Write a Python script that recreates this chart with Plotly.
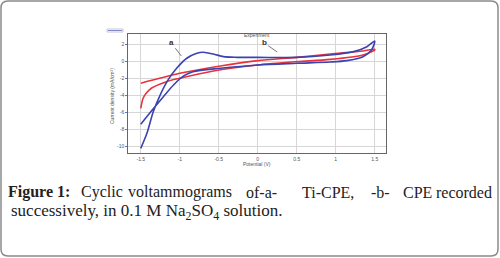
import plotly.graph_objects as go

# ---- data ----
# curve a: Ti-CPE (blue), one cycle: forward sweep then return
a_potential = [-1.50, -1.42, -1.34, -1.25, -1.15, -1.04, -0.91, -0.78, -0.70, -0.57, -0.44, -0.27,
               0.00, 0.50, 0.93, 1.23, 1.40, 1.50,
               1.46, 1.35, 1.14, 0.93, 0.50, 0.00, -0.48, -0.83, -0.95, -1.08, -1.21, -1.34, -1.50]
a_current = [-10.2, -8.4, -5.9, -3.9, -2.15, -0.78, 0.40, 0.99, 1.10, 0.90, 0.59, 0.51,
             0.51, 0.50, 0.79, 1.18, 1.76, 2.43,
             1.38, 0.59, 0.12, -0.04, -0.19, -0.39, -0.78, -1.18, -1.68, -2.74, -4.12, -5.55, -7.36]

# curve b: CPE (red)
b_potential = [-1.50, -1.47, -1.42, -1.36, -1.17, -1.00, -0.57, 0.00, 0.50, 0.93, 1.35, 1.50,
               1.50, 1.35, 0.93, 0.50, 0.00, -0.48, -1.00, -1.50]
b_current = [-5.5, -4.3, -3.6, -3.1, -2.35, -1.95, -1.09, -0.39, 0.00, 0.27, 0.79, 1.38,
             1.46, 1.26, 0.90, 0.51, 0.12, -0.50, -1.37, -2.54]

x_ticks = [-1.5, -1, -0.5, 0, 0.5, 1, 1.5]
x_tick_labels = ["-1.5", "-1", "-0.5", "0", "0.5", "1", "1.5"]
y_ticks = [2, 0, -2, -4, -6, -8, -10]
y_tick_labels = ["2", "0", "-2", "-4", "-6", "-8", "-10"]

caption_words = ["<b>Figure 1:</b>", "Cyclic", "voltammograms", "of-a-", "Ti-CPE,", "-b-", "CPE", "recorded"]
caption_line2 = "successively, in 0.1 M Na<sub>2</sub>SO<sub>4</sub> solution."

W, H = 500, 258

def px(x):
    return x / W

def py(y):
    return 1 - y / H

fig = go.Figure()
fig.add_trace(go.Scatter(x=b_potential, y=b_current, mode="lines",
                         line=dict(color="#e8323c", width=1.6, shape="spline", smoothing=0.8),
                         showlegend=False))
fig.add_trace(go.Scatter(x=a_potential, y=a_current, mode="lines",
                         line=dict(color="#3b43b0", width=1.6, shape="spline", smoothing=0.8),
                         showlegend=False))

axis_font = dict(family="Liberation Sans, Arial, sans-serif", size=5, color="#555")

fig.update_layout(
    width=W, height=H,
    margin=dict(l=0, r=0, t=0, b=0),
    paper_bgcolor="white", plot_bgcolor="white",
    xaxis=dict(domain=[px(128.3), px(386)], range=[-1.66, 1.645],
               tickvals=x_ticks, ticktext=x_tick_labels, tickfont=axis_font,
               showgrid=True, gridcolor="#d6d6d6", gridwidth=1,
               zeroline=False, showline=True, linecolor="#666", linewidth=1, mirror=True,
               ticks="", ticklabelstandoff=1),
    yaxis=dict(domain=[py(153.3), py(34.3)], range=[-10.78, 3.22],
               tickvals=y_ticks, ticktext=y_tick_labels, tickfont=axis_font,
               showgrid=True, gridcolor="#d6d6d6", gridwidth=1,
               zeroline=False, showline=True, linecolor="#666", linewidth=1, mirror=True,
               ticks="outside", ticklen=2, tickcolor="#6a72c0"),
)

# rounded page border
r = 7
x0, y0, x1, y1 = 1.0, 1.0, 498.0, 256.0
path = (f"M {px(x0 + r)},{py(y0)} L {px(x1 - r)},{py(y0)} Q {px(x1)},{py(y0)} {px(x1)},{py(y0 + r)} "
        f"L {px(x1)},{py(y1 - r)} Q {px(x1)},{py(y1)} {px(x1 - r)},{py(y1)} "
        f"L {px(x0 + r)},{py(y1)} Q {px(x0)},{py(y1)} {px(x0)},{py(y1 - r)} "
        f"L {px(x0)},{py(y0 + r)} Q {px(x0)},{py(y0)} {px(x0 + r)},{py(y0)} Z")
fig.add_shape(type="path", path=path, xref="paper", yref="paper",
              line=dict(color="#8a8a8a", width=1.5))

# tiny legend swatch
fig.add_shape(type="rect", xref="paper", yref="paper",
              x0=px(107), x1=px(123), y0=py(32), y1=py(29),
              line=dict(color="#b8b8c8", width=0.8), fillcolor="white")
fig.add_shape(type="line", xref="paper", yref="paper",
              x0=px(108), x1=px(122), y0=py(30.5), y1=py(30.5),
              line=dict(color="#8088c8", width=1))

# chart title and axis titles (tiny)
fig.add_annotation(text="Experiment", x=px(257), y=py(30), xref="paper", yref="paper",
                   showarrow=False, font=axis_font)
fig.add_annotation(text="Potential (V)", x=px(257), y=py(163.5), xref="paper", yref="paper",
                   showarrow=False, font=axis_font)
fig.add_annotation(text="Current density (mA/cm²)", x=px(107), y=py(96), xref="paper", yref="paper",
                   showarrow=False, font=axis_font, textangle=-90)

# curve labels
lab_font = dict(family="Liberation Sans, Arial, sans-serif", size=8, color="#333")
fig.add_annotation(text="<b>a</b>", x=-0.98, y=0.67, ax=-10, ay=-13, showarrow=True,
                   arrowhead=0, arrowwidth=0.8, arrowcolor="#555", font=lab_font)
fig.add_annotation(text="<b>b</b>", x=0.25, y=1.14, ax=-13, ay=-9, showarrow=True,
                   arrowhead=0, arrowwidth=0.8, arrowcolor="#555", font=lab_font)

# caption, line 1 laid out word by word (justified), word centres in pixels
cap_font = dict(family="Liberation Serif, Times New Roman, serif", size=16, color="#222")
word_centres = [38.5, 101.5, 180, 261, 328, 380.5, 417.5, 464]
for w, xc in zip(caption_words, word_centres):
    fig.add_annotation(text=w, x=px(xc), y=py(192), xref="paper", yref="paper",
                       xanchor="center", yanchor="middle", showarrow=False, font=cap_font)
fig.add_annotation(text=caption_line2,
                   x=px(9), y=py(212), xref="paper", yref="paper",
                   xanchor="left", yanchor="middle", showarrow=False,
                   font=dict(cap_font, size=17))

fig.write_html("out.html", config={"displayModeBar": False},
               post_script="document.body.style.margin='0';document.body.style.overflow='hidden';")
